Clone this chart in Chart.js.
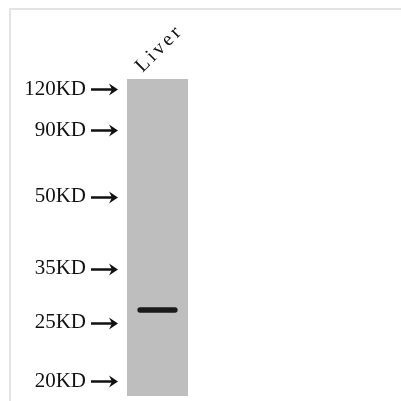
<!DOCTYPE html>
<html>
<head>
<meta charset="utf-8">
<script src="https://cdn.jsdelivr.net/npm/chart.js@4.4.1/dist/chart.umd.min.js"></script>
<style>
  html, body { margin: 0; padding: 0; background: #fff; }
  #wrap { position: relative; width: 401px; height: 401px; }
  #frame {
    position: absolute; left: 9px; top: 8px; right: 0; bottom: 0;
    border-top: 2px solid #e4e4e4; border-left: 2px solid #e4e4e4;
  }
  canvas { position: absolute; left: 0; top: 0; }
</style>
</head>
<body>
<div id="wrap">
  <div id="frame"></div>
  <canvas id="blot" width="401" height="401"></canvas>
</div>
<script>
// lanes and marker ladder (relative migration, 0 = top of gel, 1 = bottom)
const lanes = ["Liver"];
const markerLabels = ["120KD", "90KD", "50KD", "35KD", "25KD", "20KD"];
const markerRf = [0.033, 0.161, 0.372, 0.599, 0.769, 0.953];
// detected band: [top, bottom] of the band per lane
const bandRf = [[0.720, 0.737]];

// arrows next to the marker labels + rotated lane label
const blotDecor = {
  id: "blotDecor",
  afterDraw(chart) {
    const ctx = chart.ctx;
    const y = chart.scales.y;
    const x = chart.scales.x;
    const left = chart.chartArea.left;
    ctx.save();
    ctx.strokeStyle = "#111";
    ctx.fillStyle = "#111";
    ctx.lineWidth = 2.5;
    markerRf.forEach(v => {
      const py = Math.round(y.getPixelForValue(v)) + 0.5;
      const x1 = left - 36, x2 = left - 9;
      ctx.beginPath();
      ctx.moveTo(x1, py);
      ctx.lineTo(x2 - 4, py);
      ctx.stroke();
      ctx.beginPath();
      ctx.moveTo(x2, py);
      ctx.lineTo(x2 - 9, py - 6);
      ctx.lineTo(x2 - 6, py);
      ctx.lineTo(x2 - 9, py + 6);
      ctx.closePath();
      ctx.fill();
    });
    ctx.font = "20px 'Liberation Serif'";
    ctx.letterSpacing = "3px";
    ctx.textBaseline = "alphabetic";
    lanes.forEach((name, i) => {
      const px = x.getPixelForValue(i);
      ctx.save();
      ctx.translate(px - 15, chart.chartArea.top - 6);
      ctx.rotate(-Math.PI / 4);
      ctx.fillText(name, 0, 0);
      ctx.restore();
    });
    ctx.restore();
  }
};

new Chart(document.getElementById("blot"), {
  type: "bar",
  data: {
    labels: lanes,
    datasets: [
      {
        label: "band",
        data: bandRf,
        backgroundColor: "#1a1a1a",
        barPercentage: 0.66,
        categoryPercentage: 1,
        borderRadius: 3,
        borderSkipped: false,
        grouped: false,
        order: 1,
      },
      {
        label: "lane",
        data: lanes.map(() => [0, 1]),
        backgroundColor: "#bebebe",
        barPercentage: 1,
        categoryPercentage: 1,
        grouped: false,
        order: 2,
      },
    ],
  },
  options: {
    responsive: false,
    animation: false,
    events: [],
    layout: { padding: { left: 0, top: 79, right: 213, bottom: 5 } },
    plugins: { legend: { display: false }, tooltip: { enabled: false } },
    scales: {
      x: { display: false },
      y: {
        reverse: true,
        min: 0,
        max: 1,
        afterBuildTicks: s => { s.ticks = markerRf.map(v => ({ value: v })); },
        afterFit: s => { s.width = 127; s.paddingTop = 0; s.paddingBottom = 0; },
        border: { display: false },
        grid: { display: false, drawTicks: false },
        ticks: {
          autoSkip: false,
          padding: 41,
          color: "#111",
          font: { family: "'Liberation Serif'", size: 21 },
          callback: (v, i) => markerLabels[i],
        },
      },
    },
  },
  plugins: [blotDecor],
});
</script>
</body>
</html>
